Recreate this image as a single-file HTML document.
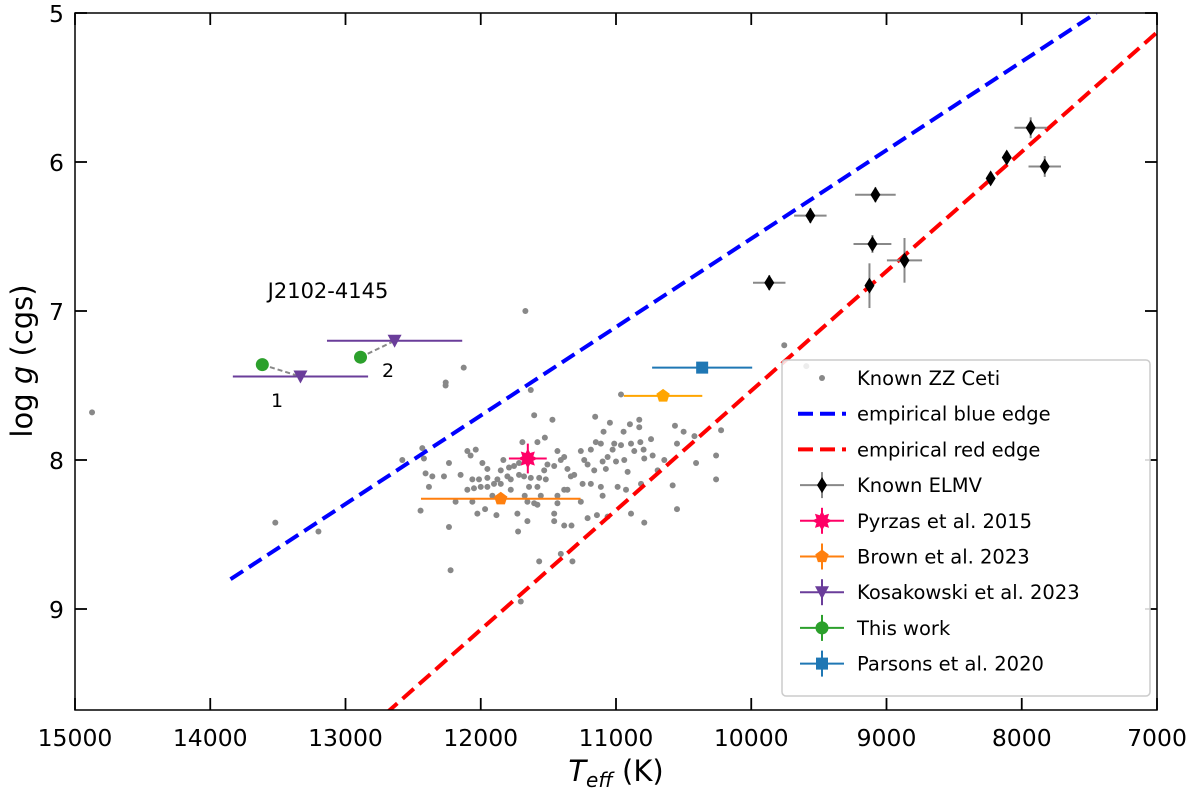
<!DOCTYPE html>
<html><head><meta charset="utf-8"><style>
html,body{margin:0;padding:0;background:#fff;}
svg{display:block;font-family:"DejaVu Sans","Liberation Sans",sans-serif;}
</style></head><body>
<svg id="chart" width="1200" height="789" viewBox="0 0 1200 789" xmlns="http://www.w3.org/2000/svg">
<defs><clipPath id="clip"><rect x="75" y="13" width="1082" height="697"/></clipPath></defs>
<g id="plot" clip-path="url(#clip)"></g>
<g id="axes"></g>
<g id="legend"></g>
</svg>
<script>
const zzT=[12260,11630,10963,11605,11470,11154,11045,10897,10828,10564,10500,10223,11092,10944,10828,11692,11581,11526,12099,12037,12075,12432,12420,12580,12235,12408,12358,12272,12149,11988,11951,11833,11791,11754,11717,11852,11803,11877,11951,12013,12062,12099,12050,12000,11951,12383,11902,11852,11778,11717,11680,11630,11568,11519,11581,11643,11531,11507,11457,11433,11408,11383,11359,11334,11309,11260,11235,11210,11186,11161,11149,11112,11099,11075,11062,11025,11013,11000,10963,10939,10914,10889,10865,10820,10796,10791,10741,10729,10692,10643,10549,10408,10420,10260,10260,10581,10815,10926,10988,11112,11186,11247,11359,11383,11433,11556,11605,11655,11675,11778,11914,12062,12186,12445,12025,11968,11884,11729,11655,11457,11457,11383,11329,11210,11141,11062,10889,10791,10549,12235,11724,11408,11322,11568,12223,11433,11260,11099,11581,14874,13519,13200,11670,12126,12259,9756,9593,11704];
const zzG=[7.50,7.53,7.56,7.70,7.73,7.71,7.75,7.76,7.73,7.77,7.81,7.80,7.81,7.81,7.78,7.88,7.88,7.85,7.94,7.93,7.97,7.92,7.99,8.00,8.02,8.09,8.11,8.11,8.10,8.02,8.06,8.00,8.05,8.04,8.02,8.07,8.11,8.13,8.12,8.13,8.13,8.20,8.19,8.18,8.18,8.18,8.16,8.16,8.13,8.10,8.11,8.12,8.12,8.13,8.18,8.18,8.07,8.03,8.04,7.94,8.00,7.98,8.06,8.11,8.10,7.94,8.00,8.03,7.93,8.07,7.88,7.89,8.01,8.06,7.98,7.93,7.89,8.01,7.90,8.00,8.08,7.89,7.94,7.88,7.93,7.99,7.86,7.97,8.07,8.00,7.89,8.02,7.84,7.97,8.13,8.17,8.16,8.20,8.18,8.18,8.16,8.16,8.20,8.20,8.24,8.24,8.29,8.28,8.24,8.20,8.24,8.28,8.28,8.34,8.36,8.33,8.37,8.36,8.41,8.36,8.41,8.44,8.44,8.39,8.37,8.38,8.36,8.42,8.33,8.45,8.48,8.63,8.68,8.68,8.74,8.29,8.28,8.24,8.30,7.68,8.42,8.48,7.00,7.38,7.48,7.23,7.37,8.95];
const elmT=[9867,9563,9082,9104,9126,8867,8230,8111,7934,7830];
const elmG=[6.81,6.36,6.22,6.55,6.83,6.66,6.11,5.97,5.77,6.03];
const elmTe=[120,120,150,140,30,130,10,10,120,120];
const elmGe=[0.05,0.05,0.05,0.06,0.15,0.15,0.02,0.02,0.07,0.07];
const blueEdgeT=[13850,7450];
const blueEdgeG=[8.8,5.0];
const redEdgeT=[12700,7000];
const redEdgeG=[9.7,5.13];
const pyrT=[11652],pyrG=[7.99],pyrTe=[140],pyrGe=[0.1];
const brownT=[11852,10652],brownG=[8.26,7.57],brownTe=[590,290];
const parsT=[10363],parsG=[7.38],parsTe=[370];
const kosT=[13333,12637],kosG=[7.44,7.20],kosTe=[500,500];
const thisT=[13615,12889],thisG=[7.36,7.31];
const xTicks=[15000,14000,13000,12000,11000,10000,9000,8000,7000];
const yTicks=[5,6,7,8,9];

const NS="http://www.w3.org/2000/svg";
const X=t=>75+(15000-t)*0.13525;
const Y=g=>13+(g-5)*149;
const plot=document.getElementById('plot'),axes=document.getElementById('axes'),leg=document.getElementById('legend');
function mk(tag,attrs,parent){const e=document.createElementNS(NS,tag);for(const k in attrs)e.setAttribute(k,attrs[k]);parent.appendChild(e);return e;}
function txt(s,attrs,parent){const e=mk('text',attrs,parent);e.textContent=s;return e;}

zzT.forEach((t,i)=>{const c=mk('circle',{cx:X(t),cy:Y(zzG[i]),r:3,fill:'#888'},plot);

});
let bl=mk('line',{x1:X(blueEdgeT[0]),y1:Y(blueEdgeG[0]),x2:X(blueEdgeT[1]),y2:Y(blueEdgeG[1]),stroke:'#0000ff','stroke-width':4,'stroke-dasharray':'15 7'},plot);


let rl=mk('line',{x1:X(redEdgeT[0]),y1:Y(redEdgeG[0]),x2:X(redEdgeT[1]),y2:Y(redEdgeG[1]),stroke:'#ff0000','stroke-width':4,'stroke-dasharray':'15 7'},plot);



function ebar(t,g,te,ge,col,w){
 const grp=mk('g',{},plot);
 if(te) mk('line',{x1:X(t+te),x2:X(t-te),y1:Y(g),y2:Y(g),stroke:col,'stroke-width':w},grp);
 if(ge) mk('line',{x1:X(t),x2:X(t),y1:Y(g-ge),y2:Y(g+ge),stroke:col,'stroke-width':w},grp);
 return grp;
}
function diamond(x,y,fill,p){return mk('path',{d:`M${x},${y-8}L${x+5},${y}L${x},${y+8}L${x-5},${y}Z`,fill:fill},p);}
function pent(x,y,r,fill,p){let d='';for(let k=0;k<5;k++){const a=-Math.PI/2+k*2*Math.PI/5;d+=(k?'L':'M')+(x+r*Math.cos(a))+','+(y+r*Math.sin(a));}return mk('path',{d:d+'Z',fill:fill},p);}
function tri(x,y,fill,p){return mk('path',{d:`M${x-7},${y-6}L${x+7},${y-6}L${x},${y+7}Z`,fill:fill},p);}
function star(x,y,fill,p){let d='';for(let k=0;k<16;k++){const a=-Math.PI/2+k*Math.PI/8;const r=k%2?6:10;d+=(k?'L':'M')+(x+r*Math.cos(a))+','+(y+r*Math.sin(a));}return mk('path',{d:d+'Z',fill:fill},p);}

elmT.forEach((t,i)=>{const g=ebar(t,elmG[i],elmTe[i],elmGe[i],'#888',2);


diamond(X(t),Y(elmG[i]),'#000',g);});

for(let i=0;i<2;i++){const l=mk('line',{x1:X(thisT[i]),y1:Y(thisG[i]),x2:X(kosT[i]),y2:Y(kosG[i]),stroke:'#888','stroke-width':2,'stroke-dasharray':'5 3'},plot);

}
kosT.forEach((t,i)=>{const g=ebar(t,kosG[i],kosTe[i],0,'#6a3d9a',2);


tri(X(t),Y(kosG[i]),'#6a3d9a',g);});
thisT.forEach((t,i)=>{const g=mk('g',{},plot);


mk('circle',{cx:X(t),cy:Y(thisG[i]),r:6.5,fill:'#2ca02c'},g);});
brownT.forEach((t,i)=>{const col=i==0?'#ff7f0e':'#ffa500';const g=ebar(t,brownG[i],brownTe[i],0,col,2);


pent(X(t),Y(brownG[i]),7,col,g);});
parsT.forEach((t,i)=>{const g=ebar(t,parsG[i],parsTe[i],0,'#1f77b4',2);


mk('rect',{x:X(t)-6,y:Y(parsG[i])-6,width:12,height:12,fill:'#1f77b4'},g);});
pyrT.forEach((t,i)=>{const g=ebar(t,pyrG[i],pyrTe[i],pyrGe[i],'#ff0066',2);


star(X(t),Y(pyrG[i]),'#ff0066',g);});

txt('J2102-4145',{x:328,y:298,'font-size':21,'text-anchor':'middle',fill:'#000',},plot);
txt('1',{x:277,y:407,'font-size':19,'text-anchor':'middle',},plot);
txt('2',{x:388,y:377,'font-size':19,'text-anchor':'middle',},plot);

mk('rect',{x:75,y:13,width:1082,height:697,fill:'none',stroke:'#000','stroke-width':1.5,},axes);
xTicks.forEach(t=>{const x=X(t);
mk('line',{x1:x,x2:x,y1:710,y2:698,stroke:'#000','stroke-width':1.8},axes);
mk('line',{x1:x,x2:x,y1:13,y2:25,stroke:'#000','stroke-width':1.8},axes);
const e=txt(String(t),{x:x,y:746,'font-size':23.5,'text-anchor':'middle'},axes);

});
yTicks.forEach(g=>{const y=Y(g);
mk('line',{x1:75,x2:87,y1:y,y2:y,stroke:'#000','stroke-width':1.8},axes);
mk('line',{x1:1157,x2:1145,y1:y,y2:y,stroke:'#000','stroke-width':1.8},axes);
const e=txt(String(g),{x:64,y:y+9,'font-size':23.5,'text-anchor':'end'},axes);

});
const xt=mk('text',{x:616,y:781,'font-size':29,'text-anchor':'middle',},axes);
xt.innerHTML='<tspan font-style="italic">T</tspan><tspan font-style="italic" font-size="20" dy="6">eff</tspan><tspan dy="-6"> (K)</tspan>';
const yt=mk('text',{transform:'translate(32,361) rotate(-90)','font-size':29,'text-anchor':'middle',},axes);
yt.innerHTML='log <tspan font-style="italic">g</tspan> (cgs)';

mk('rect',{x:782,y:360,width:368,height:336,rx:4,fill:'#fff','fill-opacity':0.85,stroke:'#ccc','stroke-width':1.5},leg);
const labels=['Known ZZ Ceti','empirical blue edge','empirical red edge','Known ELMV','Pyrzas et al. 2015','Brown et al. 2023','Kosakowski et al. 2023','This work','Parsons et al. 2020'];
labels.forEach((s,i)=>{const y=378+i*35.7;const g=mk('g',{},leg);


const cx=822;
if(i==0) mk('circle',{cx:cx,cy:y,r:3,fill:'#888'},g);
else if(i==1||i==2) mk('line',{x1:798,x2:846,y1:y,y2:y,stroke:i==1?'#0000ff':'#ff0000','stroke-width':4,'stroke-dasharray':'15 7'},g);
else if(i==3){mk('line',{x1:800,x2:844,y1:y,y2:y,stroke:'#888','stroke-width':2},g);mk('line',{x1:cx,x2:cx,y1:y-13,y2:y+13,stroke:'#888','stroke-width':2},g);diamond(cx,y,'#000',g);}
else{const col=['#ff0066','#ff7f0e','#6a3d9a','#2ca02c','#1f77b4'][i-4];
mk('line',{x1:800,x2:844,y1:y,y2:y,stroke:col,'stroke-width':2},g);mk('line',{x1:cx,x2:cx,y1:y-13,y2:y+13,stroke:col,'stroke-width':2},g);
if(i==4)star(cx,y,col,g);else if(i==5)pent(cx,y,7,col,g);else if(i==6)tri(cx,y,col,g);else if(i==7)mk('circle',{cx:cx,cy:y,r:6.5,fill:col},g);else mk('rect',{x:cx-6,y:y-6,width:12,height:12,fill:col},g);}
txt(s,{x:857,y:y+7,'font-size':19.5},g);});
</script>
</body></html>
